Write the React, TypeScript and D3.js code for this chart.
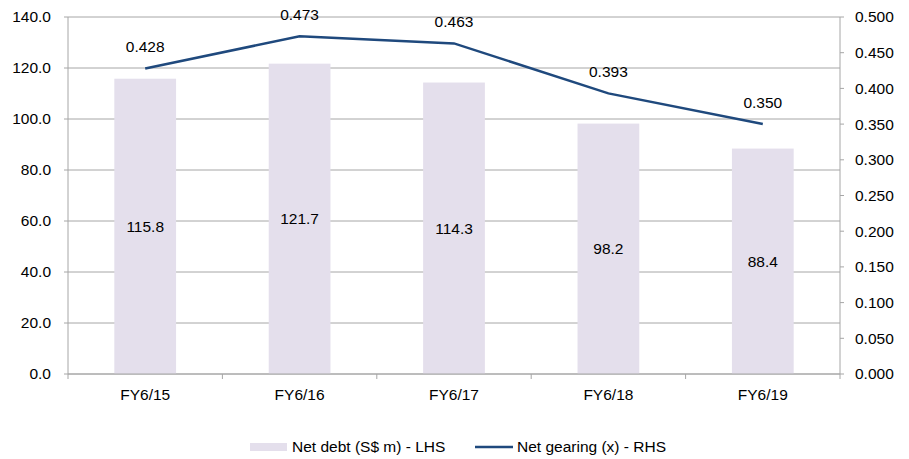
import React from "react";
import * as d3 from "d3";

const categories = ["FY6/15", "FY6/16", "FY6/17", "FY6/18", "FY6/19"];
const netDebt = [115.8, 121.7, 114.3, 98.2, 88.4];
const netGearing = [0.428, 0.473, 0.463, 0.393, 0.35];
const leftTicks = [0, 20, 40, 60, 80, 100, 120, 140];
const rightTicks = [0, 0.05, 0.1, 0.15, 0.2, 0.25, 0.3, 0.35, 0.4, 0.45, 0.5];

const W = 909;
const H = 459;
const M = { left: 68, right: 840, top: 17, bottom: 374 };
const FONT = "Liberation Sans, Arial, sans-serif";
const FS = 15.5;
const BAR = "#E4DFEC";
const LINE = "#1F497D";
const GRID = "#A6A6A6";

export default function App() {
  const x = d3.scaleBand<string>().domain(categories).range([M.left, M.right]).paddingInner(0).paddingOuter(0);
  const yL = d3.scaleLinear().domain([0, 140]).range([M.bottom, M.top]);
  const yR = d3.scaleLinear().domain([0, 0.5]).range([M.bottom, M.top]);
  const bw = x.bandwidth() * 0.4;
  const cx = (c: string) => (x(c) as number) + x.bandwidth() / 2;

  const line = d3
    .line<number>()
    .x((_, i) => cx(categories[i]))
    .y((d) => yR(d));

  return (
    <svg width={W} height={H} style={{ position: "absolute", left: 0, top: 0 }} fontFamily={FONT}>
      <rect width={W} height={H} fill="#fff" />
      {/* gridlines */}
      {leftTicks.map((t) => (
        <line key={"g" + t} x1={M.left} x2={M.right} y1={yL(t)} y2={yL(t)} stroke={GRID} strokeWidth={1} />
      ))}
      {/* bars */}
      {categories.map((c, i) => (
        <rect key={c} x={cx(c) - bw / 2} y={yL(netDebt[i])} width={bw} height={yL(0) - yL(netDebt[i])} fill={BAR} />
      ))}
      {/* axes */}
      <line x1={M.left} x2={M.left} y1={M.top} y2={M.bottom} stroke={GRID} />
      <line x1={M.right} x2={M.right} y1={M.top} y2={M.bottom} stroke={GRID} />
      <line x1={M.left} x2={M.right} y1={M.bottom} y2={M.bottom} stroke={GRID} />
      {leftTicks.map((t) => (
        <g key={"l" + t}>
          <line x1={M.left - 4} x2={M.left} y1={yL(t)} y2={yL(t)} stroke={GRID} />
          <text x={M.left - 17} y={yL(t)} dy="0.35em" textAnchor="end" fontSize={FS} fill="#000">
            {t.toFixed(1)}
          </text>
        </g>
      ))}
      {rightTicks.map((t) => (
        <g key={"r" + t}>
          <line x1={M.right} x2={M.right + 4} y1={yR(t)} y2={yR(t)} stroke={GRID} />
          <text x={M.right + 15} y={yR(t)} dy="0.35em" textAnchor="start" fontSize={FS} fill="#000">
            {t.toFixed(3)}
          </text>
        </g>
      ))}
      {categories.map((c) => (
        <line key={"t" + c} x1={x(c) as number} x2={x(c) as number} y1={M.bottom} y2={M.bottom + 5} stroke={GRID} />
      ))}
      <line x1={M.right} x2={M.right} y1={M.bottom} y2={M.bottom + 5} stroke={GRID} />
      {categories.map((c) => (
        <text key={"c" + c} x={cx(c)} y={M.bottom + 21} dy="0.35em" textAnchor="middle" fontSize={FS} fill="#000">
          {c}
        </text>
      ))}
      {/* bar value labels */}
      {categories.map((c, i) => (
        <text key={"bv" + c} x={cx(c)} y={(yL(netDebt[i]) + yL(0)) / 2} dy="0.35em" textAnchor="middle" fontSize={FS} fill="#000">
          {netDebt[i].toFixed(1)}
        </text>
      ))}
      {/* gearing line */}
      <path d={line(netGearing) || ""} fill="none" stroke={LINE} strokeWidth={2.5} />
      {categories.map((c, i) => (
        <text key={"lv" + c} x={cx(c)} y={yR(netGearing[i]) - 22} dy="0.35em" textAnchor="middle" fontSize={FS} fill="#000">
          {netGearing[i].toFixed(3)}
        </text>
      ))}
      {/* legend */}
      <rect x={250} y={443} width={37} height={8} fill={BAR} />
      <text x={292} y={447} dy="0.35em" fontSize={FS} fill="#000">
        Net debt (S$ m) - LHS
      </text>
      <line x1={475} x2={513} y1={447} y2={447} stroke={LINE} strokeWidth={2.5} />
      <text x={517} y={447} dy="0.35em" fontSize={FS} fill="#000">
        Net gearing (x) - RHS
      </text>
    </svg>
  );
}
